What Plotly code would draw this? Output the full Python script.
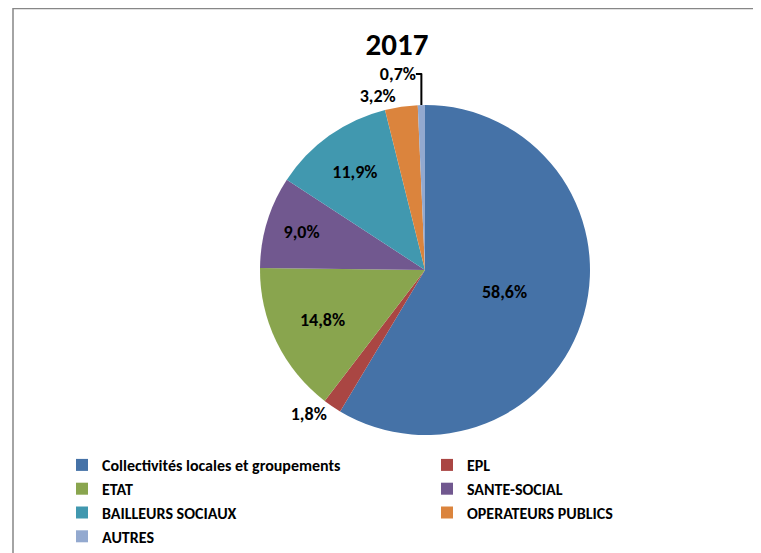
import plotly.graph_objects as go

categories = ["Collectivités locales et groupements", "EPL", "ETAT", "SANTE-SOCIAL",
              "BAILLEURS SOCIAUX", "OPERATEURS PUBLICS", "AUTRES"]
values = [58.6, 1.8, 14.8, 9.0, 11.9, 3.2, 0.7]
colors = ["#4572A7", "#AA4643", "#89A54E", "#71588F", "#4198AF", "#DB843D", "#93A9CF"]
label_pos = ["inside", "outside", "inside", "inside", "inside", "outside", "outside"]
title_text = "2017"

W, H = 761, 553
OFF = 8  # page body margin offset
FONT = "Carlito, Calibri, Lato, sans-serif"

# pie placement (page pixels)
cx, cy, r = 425 - OFF, 270 - OFF, 165

fig = go.Figure(go.Pie(
    labels=categories,
    values=values,
    sort=False,
    direction="clockwise",
    rotation=0,
    marker=dict(colors=colors, line=dict(width=0)),
    textposition=label_pos,
    texttemplate="%{percent:.1%}",
    insidetextorientation="horizontal",
    insidetextfont=dict(family=FONT, size=18, color="black", weight="bold"),
    outsidetextfont=dict(family=FONT, size=18, color="black", weight="bold"),
    hoverinfo="label+percent",
    domain=dict(x=[(cx - r) / W, (cx + r) / W], y=[1 - (cy + r) / H, 1 - (cy - r) / H]),
))

fig.update_layout(
    width=W, height=H,
    margin=dict(l=0, r=0, t=0, b=0, autoexpand=False),
    paper_bgcolor="white",
    separators=", ",
    font=dict(family=FONT, color="black"),
    title=dict(text=title_text, x=(397 - OFF) / W, xanchor="center", y=1 - (44 - OFF) / H,
               yanchor="middle", xref="container", yref="container",
               font=dict(family=FONT, size=31, color="black", weight="bold")),
    legend=dict(orientation="h", x=0, xanchor="left", y=1 - 440 / H, yanchor="top",
                indentation=54, entrywidth=266, entrywidthmode="pixels",
                font=dict(family=FONT, size=16, color="black", weight="bold"),
                traceorder="normal", bgcolor="rgba(0,0,0,0)"),
    shapes=[dict(type="rect", xref="paper", yref="paper",
                 x0=(13 - OFF) / W, x1=1.05, y0=-0.05, y1=1 - (8.5 - OFF) / H,
                 line=dict(color="#878787", width=1.5), layer="below")],
)

fig.write_html("out.html")
